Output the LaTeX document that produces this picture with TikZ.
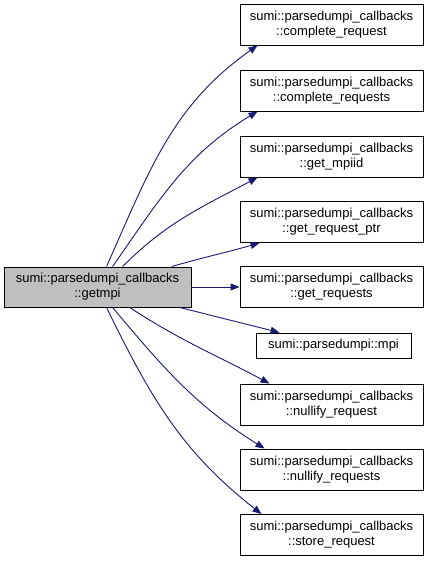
\documentclass[tikz,border=0pt]{standalone}
\usepackage{fontspec}
\setmainfont{Liberation Sans}
\usetikzlibrary{arrows.meta}
\definecolor{edgeblue}{HTML}{191970}
\definecolor{maingray}{HTML}{BFBFBF}
\begin{document}
\begin{tikzpicture}[x=1pt,y=-1pt,
  fn/.style={draw=black, line width=0.9pt, fill=white, inner sep=0pt, align=center,
    font=\fontsize{13}{15}\selectfont, minimum width=183pt, minimum height=41pt},
  mainfn/.style={fn, fill=maingray, minimum width=187pt, minimum height=40pt},
  edge/.style={draw=edgeblue, line width=0.9pt, -{Triangle[length=9pt,width=7pt]}}]
\useasboundingbox (0,0) rectangle (432,561);
\node[mainfn] (main) at (97.5,287) {sumi::parsedumpi\_callbacks\\::getmpi};
\node[fn] (c1) at (331.5,24.5) {sumi::parsedumpi\_callbacks\\::complete\_request};
\node[fn] (c2) at (331.5,90.5) {sumi::parsedumpi\_callbacks\\::complete\_requests};
\node[fn] (c3) at (331.5,156.5) {sumi::parsedumpi\_callbacks\\::get\_mpiid};
\node[fn] (c4) at (331.5,222) {sumi::parsedumpi\_callbacks\\::get\_request\_ptr};
\node[fn] (c5) at (331.5,287) {sumi::parsedumpi\_callbacks\\::get\_requests};
\node[fn, minimum width=155pt, minimum height=25pt] (c6) at (333.5,345.5) {sumi::parsedumpi::mpi};
\node[fn] (c7) at (331.5,404.5) {sumi::parsedumpi\_callbacks\\::nullify\_request};
\node[fn] (c8) at (331.5,469.5) {sumi::parsedumpi\_callbacks\\::nullify\_requests};
\node[fn] (c9) at (331.5,535) {sumi::parsedumpi\_callbacks\\::store\_request};
\draw[edge] ([xshift=103pt]main.north west) to[out=66,in=215] ([xshift=18pt]c1.south west);
\draw[edge] ([xshift=109pt]main.north west) to[out=55,in=211] ([xshift=18pt]c2.south west);
\draw[edge] ([xshift=119pt]main.north west) to[out=45,in=208] ([xshift=18pt]c3.south west);
\draw[edge] ([xshift=168pt]main.north west) to[out=16,in=196] ([xshift=20pt]c4.south west);
\draw[edge] (main.east) -- (c5.west);
\draw[edge] ([xshift=176pt]main.south west) -- ([xshift=24pt]c6.north west);
\draw[edge] ([xshift=126pt]main.south west) to[out=-33,in=152] ([xshift=30pt]c7.north west);
\draw[edge] ([xshift=109pt]main.south west) to[out=-50,in=148] ([xshift=25pt]c8.north west);
\draw[edge] ([xshift=103pt]main.south west) to[out=-64,in=142] ([xshift=22pt]c9.north west);
\end{tikzpicture}
\end{document}
